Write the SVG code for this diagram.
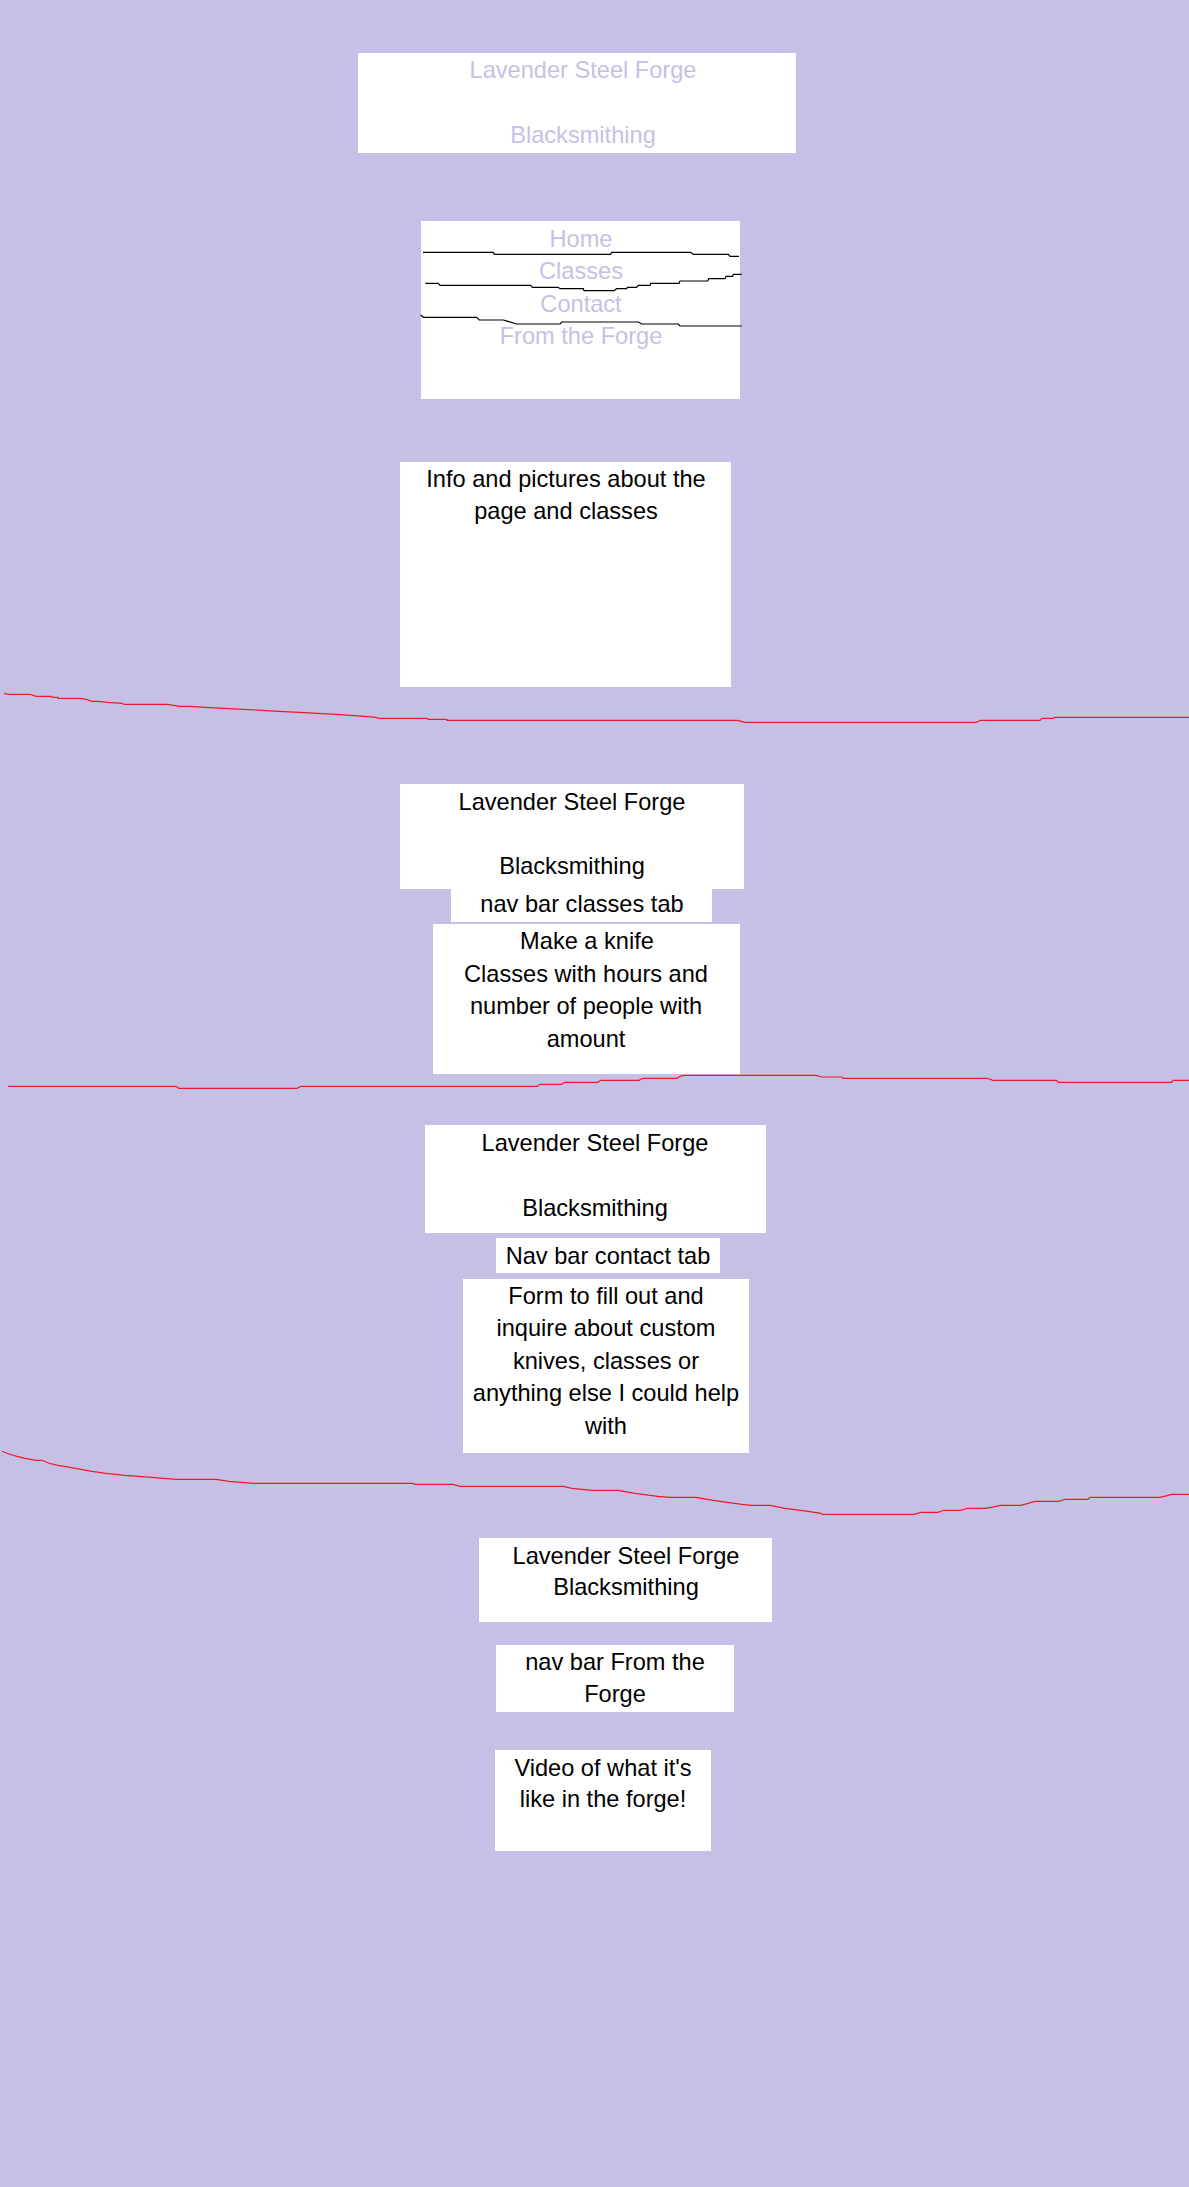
<svg xmlns="http://www.w3.org/2000/svg" width="1189" height="2187" viewBox="0 0 1189 2187">
<style>
.bg{fill:#c7c0e6}
.box{fill:#ffffff}
text{font-family:"Liberation Sans",Arial,sans-serif;font-size:23.6px;text-anchor:middle}
.lav{fill:#c7c0e6}
.blk{fill:#000000}
.sep{fill:none;stroke:#ed1c24;stroke-width:1.2}
.div{fill:none;stroke:#000000;stroke-width:1.2}
</style>
<rect class="bg" x="0" y="0" width="1189" height="2187"/>

<g id="home-header">
<rect class="box" x="358" y="53" width="438" height="100"/>
<text class="lav" x="583" y="78">Lavender Steel Forge</text>
<text class="lav" x="583" y="143">Blacksmithing</text>
</g>

<g id="home-nav">
<rect class="box" x="421" y="221" width="319" height="178"/>
<text class="lav" x="581" y="247">Home</text>
<text class="lav" x="581" y="279">Classes</text>
<text class="lav" x="581" y="312">Contact</text>
<text class="lav" x="581" y="344">From the Forge</text>
</g>

<g id="home-info">
<rect class="box" x="400" y="462" width="331" height="225"/>
<text class="blk" x="566" y="487">Info and pictures about the</text>
<text class="blk" x="566" y="519">page and classes</text>
</g>

<g id="classes-header">
<rect class="box" x="400" y="784" width="344" height="105"/>
<text class="blk" x="572" y="810">Lavender Steel Forge</text>
<text class="blk" x="572" y="874">Blacksmithing</text>
</g>

<g id="classes-nav">
<rect class="box" x="451" y="889" width="261" height="33"/>
<text class="blk" x="582" y="912">nav bar classes tab</text>
</g>

<g id="classes-content">
<rect class="box" x="433" y="924" width="307" height="150"/>
<text class="blk" x="587" y="949">Make a knife</text>
<text class="blk" x="586" y="982">Classes with hours and</text>
<text class="blk" x="586" y="1014">number of people with</text>
<text class="blk" x="586" y="1047">amount</text>
</g>

<g id="contact-header">
<rect class="box" x="425" y="1125" width="341" height="108"/>
<text class="blk" x="595" y="1151">Lavender Steel Forge</text>
<text class="blk" x="595" y="1216">Blacksmithing</text>
</g>

<g id="contact-nav">
<rect class="box" x="496" y="1238" width="224" height="35"/>
<text class="blk" x="608" y="1264">Nav bar contact tab</text>
</g>

<g id="contact-form">
<rect class="box" x="463" y="1279" width="286" height="174"/>
<text class="blk" x="606" y="1304">Form to fill out and</text>
<text class="blk" x="606" y="1336">inquire about custom</text>
<text class="blk" x="606" y="1369">knives, classes or</text>
<text class="blk" x="606" y="1401">anything else I could help</text>
<text class="blk" x="606" y="1434">with</text>
</g>

<g id="forge-header">
<rect class="box" x="479" y="1538" width="293" height="84"/>
<text class="blk" x="626" y="1564">Lavender Steel Forge</text>
<text class="blk" x="626" y="1595">Blacksmithing</text>
</g>

<g id="forge-nav">
<rect class="box" x="496" y="1645" width="238" height="67"/>
<text class="blk" x="615" y="1670">nav bar From the</text>
<text class="blk" x="615" y="1702">Forge</text>
</g>

<g id="forge-video">
<rect class="box" x="495" y="1750" width="216" height="101"/>
<text class="blk" x="603" y="1776">Video of what it's</text>
<text class="blk" x="603" y="1807">like in the forge!</text>
</g>

<g id="connectors">
<polyline class="div" points="423,252.3 493.3,252.3 494.3,254.3 610.7,254.3 611.7,252.3 690.7,252.3 693.3,254.3 728.3,254.3 730,256.3 739,256.3"/>
<polyline class="div" points="425.3,283.3 438.3,283.3 440,285.3 530.7,285.3 532.3,287.3 558.3,287.3 560,288.7 583.3,288.7 584,290.7 614,290.7 616.7,288.7 626.7,288.7 627.3,287.3 636.7,287.3 638.3,285.3 650,285.3 650.7,283.3 679,283.3 680,281 707.7,281 708.7,278.7 725,278.7 726,276.3 732.7,276.3 733.3,274.3 741.7,274.3"/>
<polyline class="div" points="420.7,315 423.3,317.3 476.7,317.3 479.3,320 503.3,320 516.7,324 560,324 561.7,322 638.3,322 641.7,324 678.3,324 680,326 741.7,326"/>

<polyline class="sep" points="4,693.3 9,694.3 30,694.3 36,696.3 51,696.3 53,697.3 58,697.3 58,698.3 80,698.3 86,699.3 92,701.3 98,701.3 108,702.3 122,703.3 124,704.3 167,704.3 180,706.3 190,706.3 205,707.3 224,708.3 243,709.3 261,710.3 279,711.3 299,712.3 318,713.3 336,714.3 351,715.3 364,716.3 376,717.3 378,718.3 427,718.3 428,719.3 447,719.3 447,720.3 737,720.3 745,722.3 976,722.3 981,720.3 1040,720.3 1042,718.3 1053,718.3 1055,717.3 1189,717.3"/>
<polyline class="sep" points="8,1086.3 176,1086.3 179,1088.3 297,1088.3 301,1086.3 537,1086.3 540,1084.3 561,1084.3 565,1082.3 597.5,1082.3 601,1080.3 639,1080.3 643,1078.3 677,1078.3 680,1076.3 684,1075.3 816,1075.3 822,1077 842,1077 843,1078.3 987,1078.3 993,1080.3 1056,1080.3 1059,1082.3 1171.5,1082.3 1173,1080.3 1189,1080.3"/>
<polyline class="sep" points="2,1451.3 9,1454 17,1456.3 25,1458.3 36,1460.3 42,1460.3 49,1463.3 58,1465.3 70,1467.3 81,1469.3 92,1471.3 106,1473.3 125,1475.3 152,1477.3 176,1479.3 216,1479.3 229,1481.3 254,1483.3 413,1483.3 415,1484.3 453,1484.3 460,1486.3 563,1486.3 572,1488.3 592,1490.3 618,1490.3 635,1493.3 658,1496.3 670,1497.3 696,1497.3 713,1500.3 742,1504.3 751,1505.3 770,1505.3 785,1508.3 808,1511.3 821,1513.3 822,1514.3 914,1514.3 921,1512.3 938,1512.3 944,1510.3 961,1510.3 967,1508.3 986,1508.3 1001,1505.3 1021,1505.3 1035,1501.3 1059,1501.3 1065,1499.3 1088,1499.3 1090,1497.3 1160,1497.3 1172,1494.3 1189,1494.3"/>
</g>
</svg>
